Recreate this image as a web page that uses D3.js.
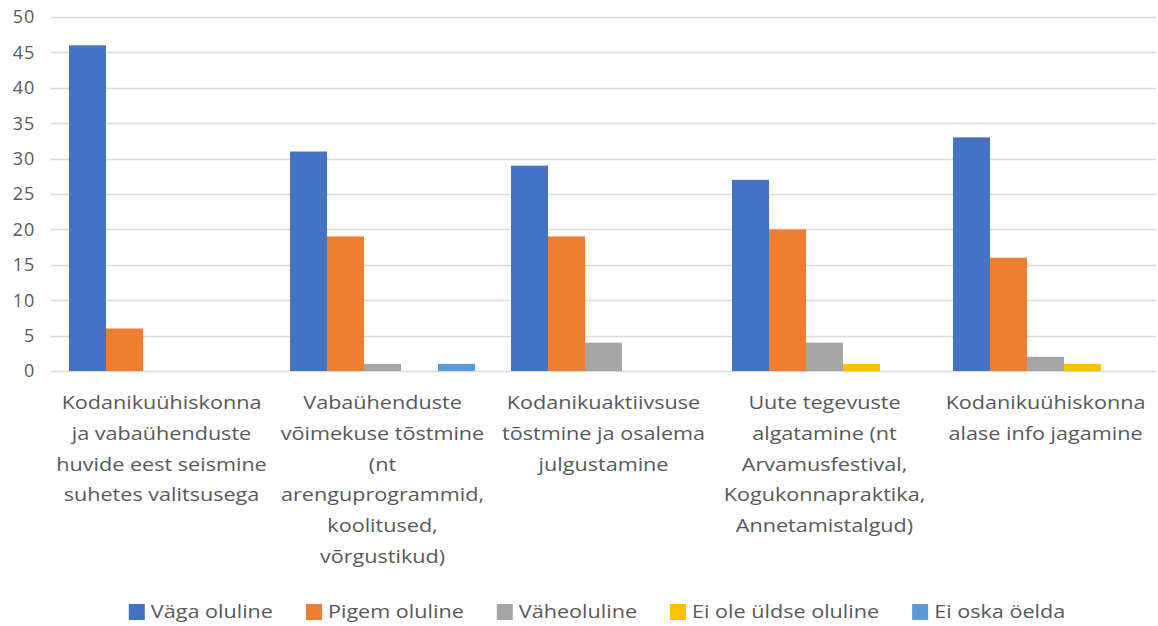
<!DOCTYPE html>
<html>
<head>
<meta charset="utf-8">
<script src="https://cdn.jsdelivr.net/npm/d3@7"></script>
<style>
  body { margin: 0; background: #fff; }
  svg text { font-family: "Open Sans", sans-serif; fill: #595959; }
</style>
</head>
<body>
<svg id="chart" width="1158" height="626"></svg>
<script>
const categories = [
    ['Kodanikuühiskonna', 'ja vabaühenduste', 'huvide eest seismine', 'suhetes valitsusega'],
    ['Vabaühenduste', 'võimekuse tõstmine', '(nt', 'arenguprogrammid,', 'koolitused,', 'võrgustikud)'],
    ['Kodanikuaktiivsuse', 'tõstmine ja osalema', 'julgustamine'],
    ['Uute tegevuste', 'algatamine (nt', 'Arvamusfestival,', 'Kogukonnapraktika,', 'Annetamistalgud)'],
    ['Kodanikuühiskonna', 'alase info jagamine']
];
const seriesNames = ['Väga oluline', 'Pigem oluline', 'Väheoluline', 'Ei ole üldse oluline', 'Ei oska öelda'];
const vagaOluline = [46, 31, 29, 27, 33];
const pigemOluline = [6, 19, 19, 20, 16];
const vaheoluline = [0, 1, 4, 4, 2];
const eiOleOluline = [0, 0, 0, 1, 1];
const eiOskaOelda = [0, 1, 0, 0, 0];
const yTicks = [0, 5, 10, 15, 20, 25, 30, 35, 40, 45, 50];

const seriesValues = [vagaOluline, pigemOluline, vaheoluline, eiOleOluline, eiOskaOelda];
const colors = ['#4472C4', '#ED7D31', '#A5A5A5', '#FFC000', '#5B9BD5'];

const PLOT_LEFT = 51;
const PLOT_RIGHT = 1156;
const TEXT_STRETCH = 1.2; // reference font is wider than Open Sans

let svg = d3.select('#chart');

// one slot per category, bars fill the middle of it
let mX = d3.scaleBand()
    .domain(d3.range(categories.length))
    .range([PLOT_LEFT, PLOT_RIGHT]);
let groupWidth = 185;
let groupOffset = (mX.bandwidth() - groupWidth) / 2;

let mXInner = d3.scaleBand()
    .domain(d3.range(seriesNames.length))
    .range([0, groupWidth]);

let mY = d3.scaleLinear().domain([0, 50]).range([371, 17]);

// gridlines
svg.append('g')
    .selectAll('line')
    .data(yTicks)
    .join('line')
    .attr('x1', PLOT_LEFT)
    .attr('x2', PLOT_RIGHT)
    .attr('y1', d => Math.round(mY(d)) + 0.5)
    .attr('y2', d => Math.round(mY(d)) + 0.5)
    .attr('stroke', '#D9D9D9')
    .attr('stroke-width', 1.3);

// y tick labels
svg.append('g')
    .selectAll('text')
    .data(yTicks)
    .join('text')
    .attr('x', 35)
    .attr('y', d => mY(d))
    .attr('dy', '0.35em')
    .attr('text-anchor', 'end')
    .style('font-size', '18px')
    .style('letter-spacing', '0.8px')
    .text(d => d);

// bars
let groups = svg.append('g')
    .selectAll('g')
    .data(categories)
    .join('g')
    .attr('transform', (d, i) => `translate(${mX(i) + groupOffset},0)`);

groups.selectAll('rect')
    .data((d, i) => seriesValues.map((vals, s) => ({ s, v: vals[i] })).filter(d => d.v > 0))
    .join('rect')
    .attr('x', d => mXInner(d.s))
    .attr('width', mXInner.bandwidth())
    .attr('y', d => mY(d.v))
    .attr('height', d => mY(0) - mY(d.v))
    .attr('fill', d => colors[d.s]);

// category labels
let labels = svg.append('g')
    .selectAll('g')
    .data(categories)
    .join('g')
    .attr('transform', (d, i) => `translate(${mX(i) + mX.bandwidth() / 2},409) scale(${TEXT_STRETCH},1)`)
    .append('text')
    .attr('text-anchor', 'middle')
    .style('font-size', '18px');

labels.selectAll('tspan')
    .data(d => d)
    .join('tspan')
    .attr('x', 0)
    .attr('dy', (d, i) => i === 0 ? 0 : 30.8)
    .text(d => d);

// legend, laid out from the measured label widths
const SWATCH = 16;
const SWATCH_GAP = 6;
const ITEM_GAP = 33;

let legend = svg.append('g');
let items = legend.selectAll('g')
    .data(seriesNames)
    .join('g');

items.append('rect')
    .attr('y', 604)
    .attr('width', SWATCH)
    .attr('height', SWATCH)
    .attr('fill', (d, i) => colors[i]);

let legendText = items.append('g')
    .attr('transform', `translate(${SWATCH + SWATCH_GAP},612) scale(${TEXT_STRETCH},1)`)
    .append('text')
    .attr('dy', '0.35em')
    .style('font-size', '18px')
    .text(d => d);

let cursor = 0;
items.each(function (d, i) {
    let w = legendText.nodes()[i].getComputedTextLength() * TEXT_STRETCH;
    d3.select(this).attr('transform', `translate(${cursor},0)`);
    cursor += SWATCH + SWATCH_GAP + w + ITEM_GAP;
});
let legendWidth = cursor - ITEM_GAP;
legend.attr('transform', `translate(${597 - legendWidth / 2},0)`);
</script>
</body>
</html>
